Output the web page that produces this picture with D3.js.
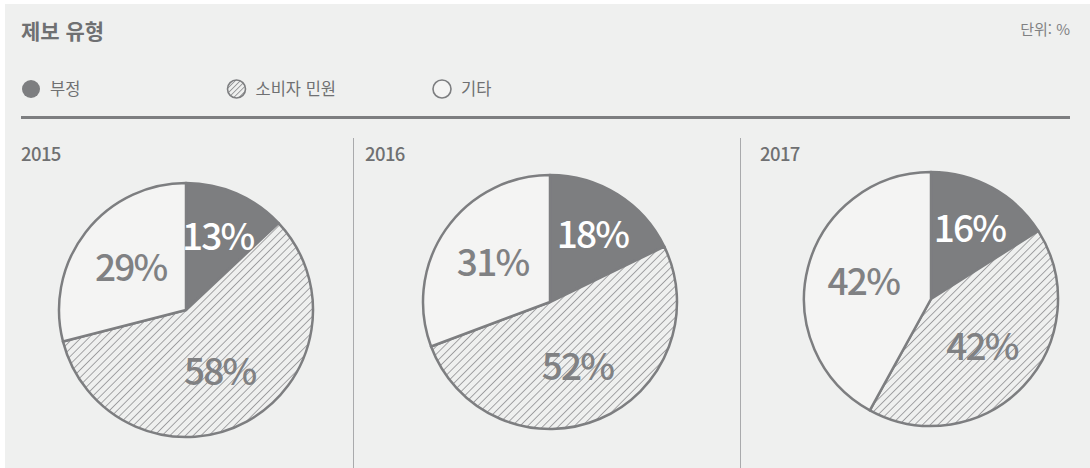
<!DOCTYPE html>
<html lang="ko">
<head>
<meta charset="utf-8">
<script src="https://cdn.jsdelivr.net/npm/d3@7"></script>
<style>
  html, body { margin: 0; padding: 0; background: #ffffff; }
  svg { display: block; font-family: "Noto Sans CJK KR", "Noto Sans", sans-serif; }
</style>
</head>
<body>
<svg id="chart" width="1090" height="468"></svg>
<script>
// 제보 유형 (단위: %)
const years = ["2015", "2016", "2017"];
const categories = ["부정", "소비자 민원", "기타"];
const values2015 = [13, 58, 29];
const values2016 = [18, 52, 31];
const values2017 = [16, 42, 42];
const seriesValues = [values2015, values2016, values2017];

const W = 1090, H = 468;
const ink = "#7d7e80";
const textInk = "#6f7072";
const panelFill = "#eff0ef";
const openFill = "#f4f4f3";

const svg = d3.select("#chart");

// hatch patterns for the 소비자 민원 slice and its legend key
const defs = svg.append("defs");
function hatch(id, step, width) {
  const p = defs.append("pattern")
    .attr("id", id)
    .attr("patternUnits", "userSpaceOnUse")
    .attr("width", step).attr("height", step)
    .attr("patternTransform", "rotate(45)");
  p.append("rect").attr("width", step).attr("height", step).attr("fill", panelFill);
  p.append("line")
    .attr("x1", 0).attr("y1", 0).attr("x2", 0).attr("y2", step)
    .attr("stroke", "#8a8b8d").attr("stroke-width", width);
}
hatch("hatch", 5.5, 1.5);
hatch("hatchSmall", 3.6, 1.6);

const fills = [ink, "url(#hatch)", openFill];
const legendFills = [ink, "url(#hatchSmall)", openFill];
const labelColors = ["#ffffff", "#808183", "#808183"];
const labelRadius = [0.63, 0.55, 0.55];

// panel background
svg.append("rect").attr("x", 5).attr("y", 4).attr("width", W - 5).attr("height", H - 4)
  .attr("fill", panelFill);

// title and unit
svg.append("text").attr("x", 21).attr("y", 39)
  .attr("font-size", 21).attr("font-weight", 700).attr("fill", textInk)
  .text("제보 유형");
svg.append("text").attr("x", 1070).attr("y", 35).attr("text-anchor", "end")
  .attr("font-size", 15).attr("fill", "#808183")
  .text("단위: %");

// legend
const legendX = d3.scalePoint().domain(categories).range([31, 442]);
const legend = svg.append("g").selectAll("g").data(categories).join("g")
  .attr("transform", d => `translate(${legendX(d)},89)`);
legend.append("circle").attr("r", 9)
  .attr("fill", (d, i) => legendFills[i])
  .attr("stroke", ink).attr("stroke-width", (d, i) => i === 0 ? 0 : 1.6);
legend.append("text").attr("x", 19).attr("y", 6)
  .attr("font-size", 16.5).attr("fill", textInk)
  .text(d => d);

// rule under the legend
svg.append("line").attr("x1", 21).attr("x2", 1070).attr("y1", 117.5).attr("y2", 117.5)
  .attr("stroke", ink).attr("stroke-width", 3);

// one column per year
const colX = d3.scaleOrdinal().domain(years).range([186, 550, 931]);
const colY = d3.scaleOrdinal().domain(years).range([310, 302, 299]);
const headX = d3.scaleOrdinal().domain(years).range([21, 365, 760]);
const dividerX = [353.5, 740.5];

svg.append("g").selectAll("line").data(dividerX).join("line")
  .attr("x1", d => d).attr("x2", d => d).attr("y1", 138).attr("y2", H)
  .attr("stroke", "#a9aaac").attr("stroke-width", 1);

const radius = 127;
const pie = d3.pie().sort(null).value(d => d);
const arc = d3.arc().innerRadius(0).outerRadius(radius);
const labelPos = (d, i) => d3.arc()
  .innerRadius(radius * labelRadius[i]).outerRadius(radius * labelRadius[i])
  .centroid(d);

years.forEach((yr, k) => {
  svg.append("text").attr("x", headX(yr)).attr("y", 161)
    .attr("font-size", 18.5).attr("font-weight", 500).attr("fill", textInk)
    .attr("letter-spacing", -0.6)
    .text(yr);

  const g = svg.append("g").attr("transform", `translate(${colX(yr)},${colY(yr)})`);
  const arcs = pie(seriesValues[k]);

  g.selectAll("path").data(arcs).join("path")
    .attr("d", arc)
    .attr("fill", (d, i) => fills[i])
    .attr("stroke", ink).attr("stroke-width", 2.5)
    .attr("stroke-linejoin", "round");

  g.selectAll("text").data(arcs).join("text")
    .attr("transform", (d, i) => `translate(${labelPos(d, i)})`)
    .attr("text-anchor", "middle").attr("dy", "0.36em")
    .attr("font-size", 37).attr("font-weight", 500)
    .attr("letter-spacing", -1.8)
    .attr("fill", (d, i) => labelColors[i])
    .text(d => d.data + "%");
});
</script>
</body>
</html>
